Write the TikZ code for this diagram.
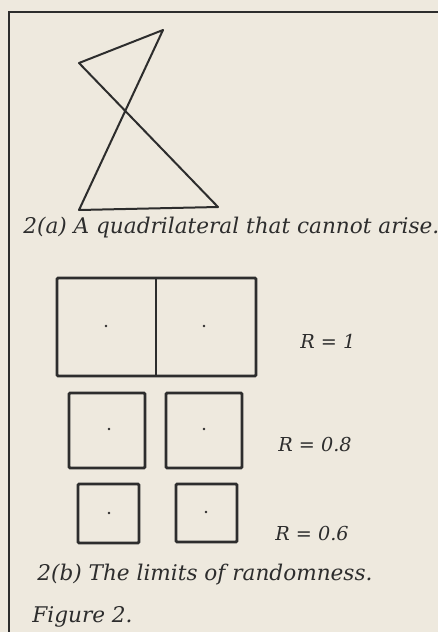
\documentclass[tikz,border=0pt]{standalone}
\usepackage{xcolor}
\usepackage{fontspec}
\setmainfont{DejaVu Serif}
\usepackage{tikz}
\usetikzlibrary{positioning}
\definecolor{paper}{RGB}{238,233,222}
\definecolor{ink}{RGB}{45,45,45}

\begin{document}
\begin{tikzpicture}[x=0.5pt, y=-0.5pt,
    frame/.style={draw=ink, line width=1pt},
    edge/.style={draw=ink, line width=1pt, line join=round},
    cell/.style={draw=ink, line width=1.4pt, rounded corners=0.6pt},
    spot/.style={circle, fill=ink, inner sep=0pt, minimum size=1.4pt},
    caption/.style={font=\fontsize{10.8}{13}\selectfont\itshape, text=ink, inner sep=0pt, anchor=base west},
    rlabel/.style={font=\fontsize{9.6}{11}\selectfont\itshape, text=ink, inner sep=0pt, anchor=base west}
]
\fill[paper] (0,0) rectangle (438,632);
\useasboundingbox (0,0) rectangle (438,632);
\draw[frame] (438,12) -- (9,12) -- (9,632);

\coordinate (apex) at (163,30);
\coordinate (wing) at (79,63);
\coordinate (foot) at (218,207);
\coordinate (heel) at (79,210);
\draw[edge] (apex) -- (wing) -- (foot) -- (heel) -- cycle;
\node[caption] (capa) at (23,233) {2(a) A quadrilateral that cannot arise.};

\draw[cell] (57,278) rectangle (256,376);
\draw[cell] (156,278) -- (156,376);
\node[spot] (d1a) at (106,326) {};
\node[spot] (d1b) at (204,326) {};
\node[rlabel] (r1) at (300,348) {R = 1};

\draw[cell] (69,393) rectangle (145,468);
\draw[cell] (166,393) rectangle (242,468);
\node[spot] (d2a) at (109,429) {};
\node[spot] (d2b) at (204,429) {};
\node[rlabel] (r2) at (278,451) {R = 0.8};

\draw[cell] (78,484) rectangle (139,543);
\draw[cell] (176,484) rectangle (237,542);
\node[spot] (d3a) at (109,513) {};
\node[spot] (d3b) at (206,512) {};
\node[rlabel] (r3) at (275,540) {R = 0.6};

\node[caption] (capb) at (37,580) {2(b) The limits of randomness.};
\node[caption] (fig) at (32,622) {Figure 2.};
\end{tikzpicture}
\end{document}
